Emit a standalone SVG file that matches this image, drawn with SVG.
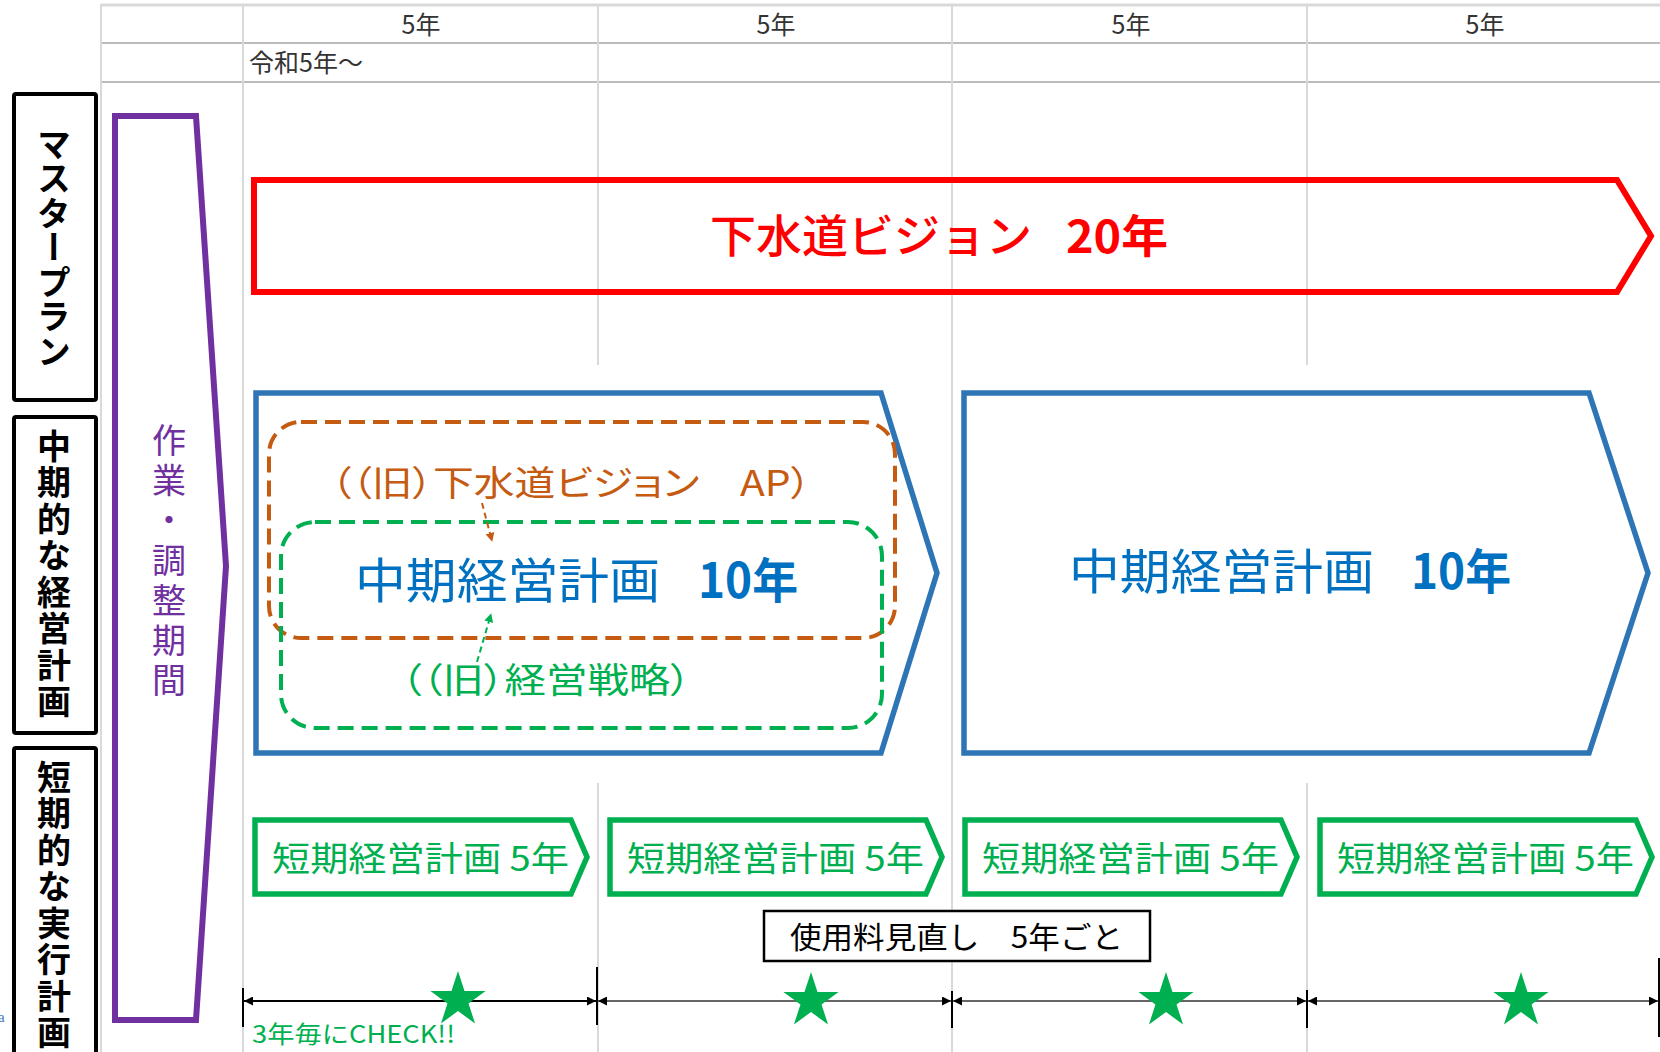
<svg xmlns="http://www.w3.org/2000/svg" width="1660" height="1052" viewBox="0 0 1660 1052">
<style>
.jp{font-family:"Noto Sans CJK JP","Noto Sans",sans-serif}
.hdr{font-family:"Noto Sans CJK JP","Liberation Sans",sans-serif;font-size:25px;fill:#333}
.grid{stroke:#D9D9D9;stroke-width:2;fill:none}
.gridh{stroke:#A6A6A6;stroke-width:1.5;fill:none}
.vlab{font-family:"Noto Sans CJK JP",sans-serif;font-weight:bold;font-size:34px;fill:#000;writing-mode:vertical-rl}
.lbox{fill:#fff;stroke:#000;stroke-width:4}
.blue{fill:#fff;stroke:#2E75B6;stroke-width:5.5}
.bt{fill:#0070C0;font-size:48px}
.gbox{fill:#fff;stroke:#00B050;stroke-width:5.5}
.gt{fill:#00B050;font-size:34px}
.tl{stroke-width:2;fill:none}
.tick{stroke:#000;stroke-width:2}
.palt{font-feature-settings:"palt"}
</style>
<defs>
<marker id="ah" viewBox="0 0 10 10" refX="10" refY="5" markerWidth="10" markerHeight="9" markerUnits="userSpaceOnUse" orient="auto-start-reverse"><path d="M0,0 L10,5 L0,10 z" fill="#000"/></marker>
<marker id="ao" viewBox="0 0 10 10" refX="9" refY="5" markerWidth="9" markerHeight="9" markerUnits="userSpaceOnUse" orient="auto"><path d="M0,0 L10,5 L0,10 z" fill="#C55A11"/></marker>
<marker id="ag" viewBox="0 0 10 10" refX="9" refY="5" markerWidth="9" markerHeight="9" markerUnits="userSpaceOnUse" orient="auto"><path d="M0,0 L10,5 L0,10 z" fill="#00B050"/></marker>
<polygon id="star" points="0,-29 6.51,-8.96 27.58,-8.96 10.54,3.42 17.05,23.46 0,11.08 -17.05,23.46 -10.54,3.42 -27.58,-8.96 -6.51,-8.96" fill="#00B050"/>
</defs>

<g id="grid">
<line class="grid" x1="101" y1="5" x2="1660" y2="5" style="stroke-width:3"/>
<line class="gridh" x1="101" y1="43" x2="1660" y2="43"/>
<line class="gridh" x1="101" y1="82" x2="1660" y2="82"/>
<line class="grid" x1="101" y1="4" x2="101" y2="1052"/>
<line class="grid" x1="243" y1="4" x2="243" y2="1052"/>
<line class="grid" x1="598" y1="4" x2="598" y2="365"/>
<line class="grid" x1="598" y1="783" x2="598" y2="1052"/>
<line class="grid" x1="952" y1="4" x2="952" y2="1052"/>
<line class="grid" x1="1307" y1="4" x2="1307" y2="365"/>
<line class="grid" x1="1307" y1="783" x2="1307" y2="1052"/>
<text class="hdr" x="421" y="34" text-anchor="middle">5年</text>
<text class="hdr" x="776" y="34" text-anchor="middle">5年</text>
<text class="hdr" x="1131" y="34" text-anchor="middle">5年</text>
<text class="hdr" x="1485" y="34" text-anchor="middle">5年</text>
<text class="hdr" x="249" y="72">令和5年～</text>
</g>

<g id="label-master">
<rect class="lbox" x="14" y="94" width="82" height="306" rx="2"/>
<text class="vlab" x="54" y="127" style="letter-spacing:0.5px">マスタープラン</text>
</g>
<g id="label-mid">
<rect class="lbox" x="14" y="417" width="82" height="316" rx="2"/>
<text class="vlab" x="54" y="429" style="letter-spacing:2.5px">中期的な経営計画</text>
</g>
<g id="label-short">
<rect class="lbox" x="14" y="748" width="82" height="330" rx="2"/>
<text class="vlab" x="54" y="760" style="letter-spacing:2.5px">短期的な実行計画</text>
</g>

<g id="work-period">
<polygon points="115,116 196,116 226,566 196,1020 115,1020" fill="none" stroke="#7030A0" stroke-width="6"/>
<text class="jp" x="169" y="423" style="writing-mode:vertical-rl;font-size:34px;letter-spacing:6px;fill:#7030A0">作業・調整期間</text>
</g>

<g id="vision">
<polygon points="254,180 1617,180 1651,236 1617,292 254,292" fill="none" stroke="#FF0000" stroke-width="6"/>
<text class="jp" x="710" y="253" font-size="45" font-weight="500" fill="#FF0000" textLength="322" lengthAdjust="spacingAndGlyphs">下水道ビジョン</text>
<text class="jp" x="1066" y="253" font-size="45" font-weight="bold" fill="#FF0000" textLength="102" lengthAdjust="spacingAndGlyphs">20年</text>
</g>

<g id="mid-plan-1">
<polygon class="blue" points="256,393 881,393 937,573 881,753 256,753"/>
<text class="jp bt" x="355" y="598" textLength="305" lengthAdjust="spacingAndGlyphs">中期経営計画</text>
<text class="jp bt" x="698" y="598" font-weight="bold" textLength="100" lengthAdjust="spacingAndGlyphs">10年</text>
</g>

<g id="old-vision-ap">
<rect x="269" y="422" width="626" height="216" rx="32" fill="none" stroke="#C55A11" stroke-width="4" stroke-dasharray="16 8"/>
<text class="jp palt" x="331" y="496" font-size="35" fill="#C55A11" textLength="480" lengthAdjust="spacingAndGlyphs">（（旧）下水道ビジョン　AP）</text>
</g>

<g id="old-strategy">
<rect x="281" y="522" width="601" height="206" rx="34" fill="none" stroke="#00B050" stroke-width="4" stroke-dasharray="16 8"/>
<text class="jp palt" x="401" y="693" font-size="35" fill="#00B050" textLength="290" lengthAdjust="spacingAndGlyphs">（（旧）経営戦略）</text>
</g>

<g id="mid-plan-2">
<polygon class="blue" points="964,393 1589,393 1648,573 1589,753 964,753"/>
<text class="jp bt" x="1069" y="589" textLength="305" lengthAdjust="spacingAndGlyphs">中期経営計画</text>
<text class="jp bt" x="1411" y="589" font-weight="bold" textLength="100" lengthAdjust="spacingAndGlyphs">10年</text>
</g>

<g id="short-plan-1">
<polygon class="gbox" points="255,820 571,820 587,857 571,894 255,894"/>
<text class="jp gt" x="272" y="871" textLength="297" lengthAdjust="spacingAndGlyphs">短期経営計画 5年</text>
</g>
<g id="short-plan-2">
<polygon class="gbox" points="610,820 926,820 942,857 926,894 610,894"/>
<text class="jp gt" x="627" y="871" textLength="297" lengthAdjust="spacingAndGlyphs">短期経営計画 5年</text>
</g>
<g id="short-plan-3">
<polygon class="gbox" points="965,820 1281,820 1297,857 1281,894 965,894"/>
<text class="jp gt" x="982" y="871" textLength="297" lengthAdjust="spacingAndGlyphs">短期経営計画 5年</text>
</g>
<g id="short-plan-4">
<polygon class="gbox" points="1320,820 1636,820 1652,857 1636,894 1320,894"/>
<text class="jp gt" x="1337" y="871" textLength="297" lengthAdjust="spacingAndGlyphs">短期経営計画 5年</text>
</g>

<g id="fee-review">
<rect x="764" y="911" width="386" height="50" fill="#fff" stroke="#000" stroke-width="2.5"/>
<text class="jp" x="790" y="948" font-size="30" fill="#000" textLength="333" lengthAdjust="spacingAndGlyphs">使用料見直し　5年ごと</text>
</g>

<g id="connectors">
<line x1="482" y1="503" x2="492" y2="541" stroke="#C55A11" stroke-width="2" stroke-dasharray="6 4" marker-end="url(#ao)"/>
<line x1="477" y1="662" x2="491" y2="614" stroke="#00B050" stroke-width="2" stroke-dasharray="6 4" marker-end="url(#ag)"/>
<line class="tick" x1="243" y1="988" x2="243" y2="1027"/>
<line class="tick" x1="597" y1="967" x2="597" y2="1025"/>
<line class="tick" x1="952" y1="991" x2="952" y2="1028"/>
<line class="tick" x1="1307" y1="990" x2="1307" y2="1028"/>
<line class="tick" x1="1659" y1="958" x2="1659" y2="1037"/>
<line class="tl" x1="244" y1="1001" x2="596" y2="1001" stroke="#000" marker-start="url(#ah)" marker-end="url(#ah)"/>
<line class="tl" x1="598" y1="1001" x2="951" y2="1001" stroke="#666" marker-start="url(#ah)" marker-end="url(#ah)"/>
<line class="tl" x1="953" y1="1001" x2="1306" y2="1001" stroke="#666" marker-start="url(#ah)" marker-end="url(#ah)"/>
<line class="tl" x1="1308" y1="1001" x2="1658" y2="1001" stroke="#666" marker-start="url(#ah)" marker-end="url(#ah)"/>
</g>

<g id="stars">
<use href="#star" x="458" y="1000"/>
<use href="#star" x="811" y="1001"/>
<use href="#star" x="1166" y="1001"/>
<use href="#star" x="1521" y="1001"/>
</g>

<g id="check-note">
<text class="jp" x="252" y="1043" font-size="24" fill="#00B050" textLength="203" lengthAdjust="spacingAndGlyphs">3年毎にCHECK!!</text>
</g>
<text x="-2" y="1022" font-family="Liberation Serif, serif" font-size="15" fill="#4472C4">a</text>
</svg>
